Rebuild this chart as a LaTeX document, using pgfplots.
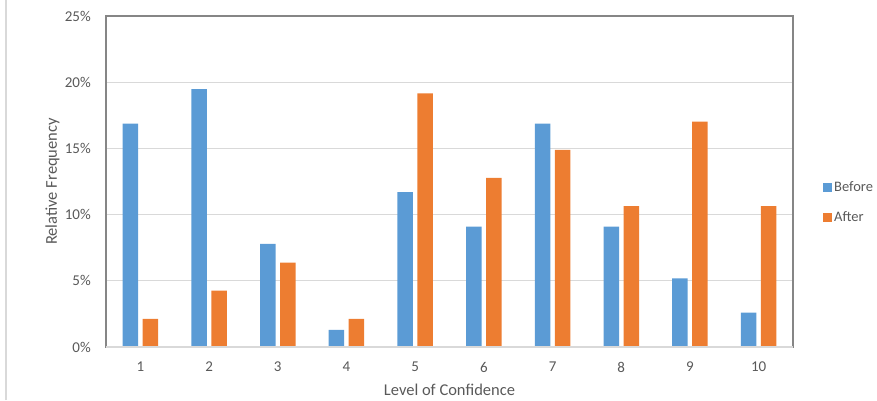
\documentclass[border=0pt]{standalone}
\usepackage{pgfplots}
\pgfplotsset{compat=1.18}
\usepackage{fontspec}
\setmainfont{Carlito}
\definecolor{xblue}{HTML}{5B9BD5}
\definecolor{xorange}{HTML}{ED7D31}
\definecolor{xgrid}{HTML}{D9D9D9}
\definecolor{xtext}{HTML}{595959}
\definecolor{xaxis}{HTML}{868686}
\begin{document}
\begin{tikzpicture}[x=1pt,y=1pt]
\path[use as bounding box] (0,0) rectangle (877,400);
\draw[xgrid, line width=1.5pt] (6,0) -- (6,400);
\begin{axis}[
  at={(106pt,53pt)}, anchor=south west,
  scale only axis, width=687pt, height=331pt,
  ymin=0, ymax=25, ytick={0,5,...,25},
  xmin=0.5, xmax=10.5, xtick={1,...,10},
  /pgf/number format/assume math mode=true,
  yticklabel={\pgfmathprintnumber{\tick}\%},
  ybar, bar width=15.5pt,
  major tick length=0pt,
  ymajorgrids, grid style={xgrid, line width=1.2pt},
  axis line style={xaxis, line width=1.5pt},
  font=\fontsize{15}{17}\selectfont,
  tick label style={xtext, font=\fontsize{15}{17}\selectfont},
  yticklabel style={anchor=east, inner sep=0pt, xshift=-15pt},
  xticklabel style={anchor=north, inner sep=0pt, yshift=-15pt},
  xlabel={Level of Confidence}, ylabel={Relative Frequency},
  label style={xtext, font=\fontsize{16.5}{18}\selectfont},
  xlabel style={at={(axis description cs:0.5,-0.128)}, anchor=center},
  ylabel style={at={(axis description cs:-0.078,0.5)}, anchor=center, rotate=0},
  legend style={at={(1.0437,0.4366)}, anchor=west, draw=none, fill=none,
    font=\fontsize{14.5}{16}\selectfont, text=xtext, row sep=14pt,
    inner sep=0pt, /tikz/every even column/.append style={column sep=2pt}},
  legend image code/.code={\fill[#1] (0pt,-4.5pt) rectangle (9pt,4.5pt);},
  legend cell align=left,
]
\addplot[fill=xblue, draw=none, bar shift=-10pt] coordinates {
(1,16.88) (2,19.48) (3,7.79) (4,1.30) (5,11.69) (6,9.09) (7,16.88) (8,9.09) (9,5.19) (10,2.60)};
\addplot[fill=xorange, draw=none, bar shift=10pt] coordinates {
(1,2.13) (2,4.26) (3,6.38) (4,2.13) (5,19.15) (6,12.77) (7,14.89) (8,10.64) (9,17.02) (10,10.64)};
\legend{Before, After}
\draw[xgrid, line width=1.5pt] (rel axis cs:0,0) -- (rel axis cs:1,0);
\end{axis}
\end{tikzpicture}
\end{document}
